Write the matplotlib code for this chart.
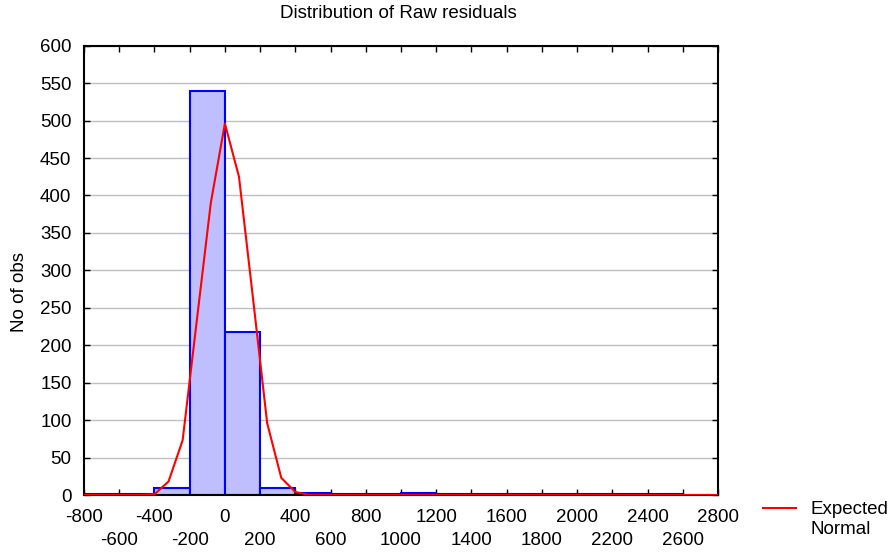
import matplotlib
matplotlib.use("Agg")
import matplotlib.pyplot as plt
from matplotlib.lines import Line2D

plt.rcParams['font.family'] = ['Liberation Sans', 'DejaVu Sans']
FS = 13.5

# Histogram data (bins of width 200)
bin_left_edges = [-800, -600, -400, -200, 0, 200, 400, 600, 800, 1000, 1200,
                  1400, 1600, 1800, 2000, 2200, 2400]
counts = [1, 1, 10, 539, 218, 10, 3, 1, 1, 3, 1, 1, 1, 1, 1, 1, 1]
bin_width = 200

# Expected normal curve
normal_x = [-800, -480, -400, -320, -240, -160, -80, 0, 80, 160, 240, 320, 400, 480, 2800]
normal_y = [0, 0, 1, 18, 73, 232, 390, 496, 425, 262, 96, 23, 4, 0, 0]

xticks_row1 = [-800, -400, 0, 400, 800, 1200, 1600, 2000, 2400, 2800]
xticks_row2 = [-600, -200, 200, 600, 1000, 1400, 1800, 2200, 2600]
yticks = list(range(0, 601, 50))

W, H = 890, 553
fig = plt.figure(figsize=(8.9, 5.53), dpi=100)
ax = fig.add_axes([84/W, 58/H, 634/W, 449.3/H])

ax.set_axisbelow(True)
ax.yaxis.grid(True, which='major', color='#c0c0c0', linewidth=1.0)
ax.bar(bin_left_edges, counts, width=bin_width, align='edge',
       color='#bfbfff', edgecolor='#0000ff', linewidth=1.5, zorder=2)
ax.plot(normal_x, normal_y, color='#ff0000', linewidth=1.5, zorder=3)

ax.set_xlim(-800, 2800)
ax.set_ylim(0, 600)
ax.set_xticks(xticks_row1)
ax.set_xticklabels([str(t) for t in xticks_row1], fontsize=FS)
ax.set_xticks(xticks_row2, minor=True)
ax.set_xticklabels([str(t) for t in xticks_row2], minor=True, fontsize=FS)
ax.set_yticks(yticks)
ax.set_yticklabels([str(t) for t in yticks], fontsize=FS)
ax.tick_params(axis='both', which='both', direction='in', length=4, width=1,
               top=True, right=True, colors='black')
ax.tick_params(axis='x', which='major', pad=10)
ax.tick_params(axis='x', which='minor', pad=26.5)
ax.tick_params(axis='y', pad=9)
for s in ax.spines.values():
    s.set_linewidth(1.5)
    s.set_color('black')

fig.text(19/W, 1 - 292/H, "No of obs", rotation=90, ha='center', va='center', fontsize=FS)
fig.text(398/W, 1 - 14/H, "Distribution of Raw residuals", ha='center', va='center', fontsize=FS)

# legend outside bottom right
fig.add_artist(Line2D([763/W, 796/W], [1 - 508/H, 1 - 508/H], color='#ff0000', linewidth=1.5,
                      transform=fig.transFigure))
fig.text(810/W, 1 - 509/H, "Expected", ha='left', va='center', fontsize=FS)
fig.text(810/W, 1 - 529/H, "Normal", ha='left', va='center', fontsize=FS)

fig.savefig("out.png", dpi=100)
